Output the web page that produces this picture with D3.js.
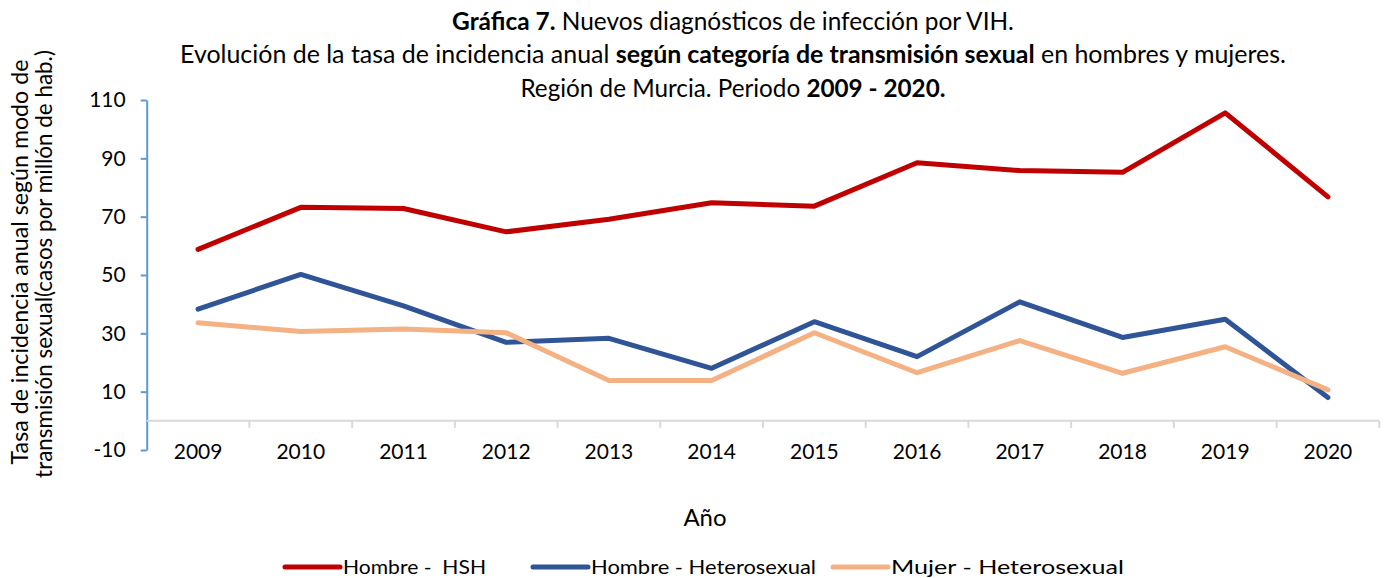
<!DOCTYPE html>
<html>
<head>
<meta charset="utf-8">
<script src="https://cdn.jsdelivr.net/npm/d3@7"></script>
<style>
  body { margin: 0; background: #fff; }
  svg { display: block; }
  text { font-family: Lato, "Open Sans", sans-serif; fill: #000; }
</style>
</head>
<body>
<svg id="chart" width="1387" height="578"></svg>
<script>
const years = ["2009","2010","2011","2012","2013","2014","2015","2016","2017","2018","2019","2020"];
const hombreHSH = [58.8, 73.2, 72.8, 64.8, 69.1, 74.8, 73.6, 88.5, 85.8, 85.2, 105.6, 76.8];
const hombreHetero = [38.3, 50.2, 39.4, 26.9, 28.3, 18.0, 34.0, 22.0, 40.8, 28.6, 34.8, 8.0];
const mujerHetero = [33.6, 30.6, 31.5, 30.2, 13.8, 13.8, 30.2, 16.5, 27.5, 16.3, 25.4, 10.6];
const yTicks = [-10, 10, 30, 50, 70, 90, 110];
const seriesNames = ["Hombre -  HSH", "Hombre - Heterosexual", "Mujer - Heterosexual"];
const seriesColors = ["#C00000", "#2F5597", "#F4B183"];

const series = [hombreHSH, hombreHetero, mujerHetero].map((vals, i) => ({
  name: seriesNames[i], color: seriesColors[i], values: vals
}));

const svg = d3.select("#chart");

function fitWidth(sel, target) {
  const node = sel.node();
  const fs = parseFloat(sel.attr("font-size"));
  const w = node.getComputedTextLength();
  sel.attr("font-size", (fs * target / w).toFixed(2));
}

const x = d3.scaleBand().domain(years).range([146.7, 1379.3]).paddingInner(0).paddingOuter(0);
const y = d3.scaleLinear().domain([-10, 110]).range([450, 100]);

// Title
const titleLines = [
  { parts: [["Gráfica 7.", true], [" Nuevos diagnósticos de infección por VIH.", false]], y: 30, w: 562 },
  { parts: [["Evolución de la tasa de incidencia anual ", false], ["según categoría de transmisión sexual", true], [" en hombres y mujeres.", false]], y: 63, w: 1106 },
  { parts: [["Región de Murcia. Periodo ", false], ["2009 - 2020.", true]], y: 97, w: 425 }
];
titleLines.forEach(l => {
  const t = svg.append("text").attr("x", 733).attr("y", l.y).attr("text-anchor", "middle").attr("font-size", 20);
  l.parts.forEach(p => t.append("tspan").text(p[0]).attr("font-weight", p[1] ? "bold" : "normal"));
  fitWidth(t, l.w);
});

// Y axis
const yAxis = svg.append("g").attr("transform", "translate(146.7,0)")
  .call(d3.axisLeft(y).tickValues(yTicks).tickSize(6).tickSizeOuter(0).tickPadding(15).tickFormat(d => String(d)));
yAxis.select(".domain").attr("stroke", "#5B9BD5").attr("stroke-width", 2);
yAxis.selectAll(".tick line").attr("stroke", "#5B9BD5").attr("stroke-width", 2);
yAxis.selectAll(".tick text").attr("font-size", 21).attr("font-family", "Lato").attr("fill", "#000");

// X axis at zero
const x0 = y(0);
const xAxisG = svg.append("g").attr("transform", `translate(0,${x0})`);
xAxisG.append("line").attr("x1", x.range()[0]).attr("x2", x.range()[1]).attr("y1", 0).attr("y2", 0)
  .attr("stroke", "#D9D9D9").attr("stroke-width", 2);
const boundaries = years.slice(1).map(yr => x(yr)).concat([x.range()[1]]);
xAxisG.selectAll("line.bt").data(boundaries).enter().append("line").attr("class", "bt")
  .attr("x1", d => d).attr("x2", d => d).attr("y1", 0).attr("y2", 7)
  .attr("stroke", "#D9D9D9").attr("stroke-width", 2);
const xLab = svg.append("g").attr("transform", `translate(0,${x0})`)
  .call(d3.axisBottom(x).tickSize(0).tickPadding(23));
xLab.select(".domain").remove();
xLab.selectAll(".tick text").attr("font-size", 21).attr("font-family", "Lato").attr("fill", "#000");

// Lines
const line = d3.line().x((d, i) => x(years[i]) + x.bandwidth() / 2).y(d => y(d));
svg.selectAll("path.series").data(series).enter().append("path").attr("class", "series")
  .attr("d", d => line(d.values)).attr("fill", "none").attr("stroke", d => d.color)
  .attr("stroke-width", 5).attr("stroke-linecap", "round").attr("stroke-linejoin", "round");

// Axis titles
const yt1 = svg.append("text").attr("transform", "translate(28,262) rotate(-90)").attr("text-anchor", "middle")
  .attr("font-size", 20).text("Tasa de incidencia anual según modo de");
fitWidth(yt1, 405);
const yt2 = svg.append("text").attr("transform", "translate(52,264) rotate(-90)").attr("text-anchor", "middle")
  .attr("font-size", 20).text("transmisión sexual(casos por millón de hab.)");
fitWidth(yt2, 428);

svg.append("text").attr("x", 705).attr("y", 526).attr("text-anchor", "middle").attr("font-size", 24).text("Año");

// Legend
const legendX = [285, 533, 833];
const legendTextW = [143, 225, 233];
const lg = svg.selectAll("g.leg").data(series).enter().append("g").attr("class", "leg")
  .attr("transform", (d, i) => `translate(${legendX[i]},567)`);
lg.append("line").attr("x1", 0).attr("x2", 55).attr("y1", 0).attr("y2", 0)
  .attr("stroke", d => d.color).attr("stroke-width", 5).attr("stroke-linecap", "round");
lg.append("text").attr("x", 58).attr("y", 7).attr("font-size", 20).style("white-space", "pre")
  .attr("textLength", (d, i) => legendTextW[i]).attr("lengthAdjust", "spacingAndGlyphs")
  .text(d => d.name);
</script>
</body>
</html>
